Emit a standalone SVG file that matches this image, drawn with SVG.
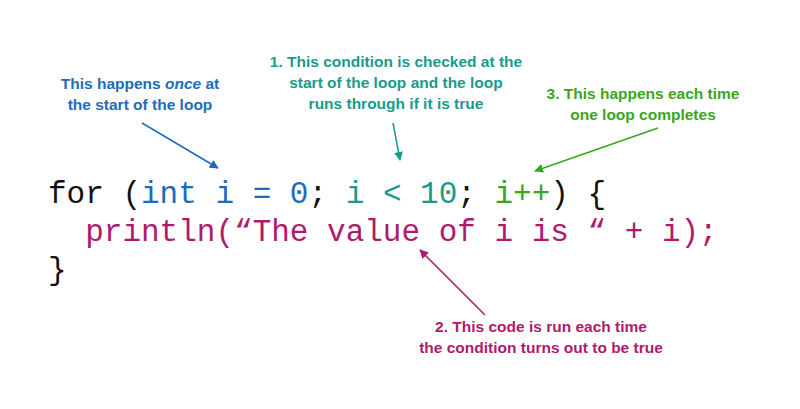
<svg xmlns="http://www.w3.org/2000/svg" width="800" height="409" viewBox="0 0 800 409">
<style>
.code{font-family:"Liberation Mono","Courier New",monospace;font-size:31px;white-space:pre}
.note{font-family:"Liberation Sans",Arial,Helvetica,sans-serif;font-size:15.5px;font-weight:bold;text-anchor:middle}
.k{fill:#111111}.b{fill:#1c6cbd}.t{fill:#1a9a8a}.g{fill:#3aa61e}.m{fill:#b01a6c}
</style>
<defs>
<marker id="ab" viewBox="0 0 10 10" refX="9" refY="5" markerWidth="9" markerHeight="9" markerUnits="userSpaceOnUse" orient="auto"><path d="M0,0L10,5L0,10z" fill="#1c6cbd"/></marker>
<marker id="at" viewBox="0 0 10 10" refX="9" refY="5" markerWidth="9" markerHeight="9" markerUnits="userSpaceOnUse" orient="auto"><path d="M0,0L10,5L0,10z" fill="#1a9a8a"/></marker>
<marker id="ag" viewBox="0 0 10 10" refX="9" refY="5" markerWidth="9" markerHeight="9" markerUnits="userSpaceOnUse" orient="auto"><path d="M0,0L10,5L0,10z" fill="#3aa61e"/></marker>
<marker id="am" viewBox="0 0 10 10" refX="9" refY="5" markerWidth="9" markerHeight="9" markerUnits="userSpaceOnUse" orient="auto"><path d="M0,0L10,5L0,10z" fill="#b01a6c"/></marker>
</defs>
<rect width="800" height="409" fill="#ffffff"/>
<g id="code">
<text class="code" x="48" y="203"><tspan class="k">for (</tspan><tspan class="b">int i = 0</tspan><tspan class="k">; </tspan><tspan class="t">i &lt; 10</tspan><tspan class="k">; </tspan><tspan class="g">i++</tspan><tspan class="k">) {</tspan></text>
<text class="code m" x="48" y="241">  println(“The value of i is “ + i);</text>
<text class="code k" x="48" y="279">}</text>
</g>
<g id="note-init">
<text class="note b" x="140" y="89">This happens <tspan font-style="italic">once</tspan> at</text>
<text class="note b" x="140" y="110">the start of the loop</text>
</g>
<g id="note-condition">
<text class="note t" x="396" y="67">1. This condition is checked at the</text>
<text class="note t" x="396" y="88">start of the loop and the loop</text>
<text class="note t" x="396" y="109">runs through if it is true</text>
</g>
<g id="note-increment">
<text class="note g" x="643" y="99">3. This happens each time</text>
<text class="note g" x="643" y="120">one loop completes</text>
</g>
<g id="note-body">
<text class="note m" x="541" y="332">2. This code is run each time</text>
<text class="note m" x="541" y="353">the condition turns out to be true</text>
</g>
<g id="connectors" stroke-width="1.5" fill="none">
<line x1="142" y1="123" x2="218" y2="168" stroke="#1c6cbd" marker-end="url(#ab)"/>
<line x1="393" y1="123" x2="400" y2="160" stroke="#1a9a8a" marker-end="url(#at)"/>
<line x1="658" y1="128" x2="535" y2="171" stroke="#3aa61e" marker-end="url(#ag)"/>
<line x1="485" y1="315" x2="420" y2="250" stroke="#b01a6c" marker-end="url(#am)"/>
</g>
</svg>
